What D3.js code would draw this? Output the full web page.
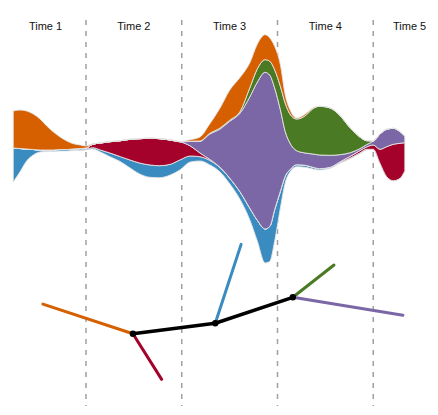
<!DOCTYPE html>
<html>
<head>
<meta charset="utf-8">
<script src="https://cdn.jsdelivr.net/npm/d3@7"></script>
<style>
  html, body { margin: 0; padding: 0; background: #fff; }
  svg { display: block; }
</style>
</head>
<body>
<svg id="chart" width="438" height="415"></svg>
<script>
// ---------------- DATA ----------------
const timeLabels = ["Time 1", "Time 2", "Time 3", "Time 4", "Time 5"];
const cloneKeys = ["blue", "red", "purple", "green", "orange"]; // bottom -> top
const cloneColors = {
  orange: "#d65f00",
  green: "#4a7a23",
  purple: "#7b67a6",
  red: "#a5022b",
  blue: "#3a8bc0"
};

// sample positions along the time axis (1 unit = one time column)
const sampleT = [0.24,0.31,0.38,0.45,0.52,0.59,0.66,0.73,0.80,0.86,0.94,1.00,1.07,1.15,1.25,1.36,1.46,1.56,1.67,1.77,1.88,1.98,2.09,2.19,2.29,2.40,2.50,2.61,2.71,2.79,2.87,2.92,2.97,3.03,3.08,3.13,3.20,3.29,3.37,3.44,3.55,3.65,3.76,3.86,3.93,4.00,4.07,4.14,4.21,4.28,4.33];
// lower edge of the stream at each sample
const baseline = [-34,-24,-13,-7,-4,-3.5,-3.5,-3,-3,-2.5,-2.5,-2,-1,-4,-8.7,-13.7,-20,-26,-29.3,-29.7,-27,-22,-14,-13,-16.7,-24,-35.7,-51.7,-71.7,-93.3,-115,-113.3,-93.3,-60,-35,-24,-18.7,-19.3,-21,-22,-20.3,-15.3,-10.7,-5.7,-2,-1.3,-15.3,-28.7,-32.7,-30.3,-22.7];
// clone thickness at each sample
const blueVals   = [34,23.5,12,5.5,2,1.5,1.5,1.5,1.5,1.5,1.5,1,1.3,2,3.7,5,8,11,12.3,12,10.7,10,6,4.3,4.5,4.4,5.7,7.7,11.7,21,34,35,31.6,16.7,6.7,2.3,2,2,1.7,1.3,1,0.6,0.7,0.7,0.7,0,0,0,0,0,0];
const redVals    = [0,0,0,0,0,0,0,0,0,0,0.5,1,3.4,7,11.3,16,20.7,24.3,26.7,27,24.3,18.3,10,3.7,1,0.3,0,0,0,0,0,0,0,0,0,0,0,0,0,0,0,0.7,1.7,2.3,2.3,4.3,14,30,36.4,35,28];
const purpleVals = [0,0,0,0,0,0,0,0,0,0,0,0,0,0,0,0,0,0,0,0,0,0,4.5,11.7,25,38.3,56.7,79,111,138.3,156.7,151,121.7,81.6,45,26.7,14,12.3,13.3,13.7,12,7.3,3.6,2,2.3,4,15.3,17.4,16,11.6,6.7];
const greenVals  = [0,0,0,0,0,0,0,0,0,0,0,0,0,0,0,0,0,0,0,0,0,0,0.3,0.3,0.7,1,1,1.7,9,13.3,12.6,14,18.3,23.4,28.3,29,31.7,37.3,45.3,48.7,47.3,39.4,24.7,11.7,4,0,0,0,0,0,0];
const orangeVals = [37,38.5,38,35.5,31,24,18,12.5,8.5,5.5,3.5,2,0.5,0,0,0,0,0,0,0,0,0.3,1.5,4,9.3,20,30,34,25,24.7,25,23.3,23.4,21.6,8.3,4.3,1,1.7,0.7,0,0,0,0,0,0,0,0,0,0,0,0];

// phylogeny
const nodeNames  = ["A", "B", "C", "orange", "red", "blue", "green", "purple"];
const nodeTime   = [1.49, 2.35, 3.16, 0.55, 1.79, 2.62, 3.59, 4.31];
const nodeLevel  = [37.5, 44.5, 61.8, 57.3, 7.1, 97.1, 83.3, 49.8];
const nodeParent = [null, "A", "B", "A", "A", "B", "C", "C"];

// ---------------- CHART ----------------
const svg = d3.select("#chart");
const x = d3.scaleLinear().domain([0, 5]).range([-9.75, 469]);
const y = d3.scaleLinear().domain([-120, 120]).range([268, 28]);
const yTree = d3.scaleLinear().domain([0, 100]).range([390, 240]);

// dashed separators
svg.append("g").selectAll("line")
  .data(d3.range(1, timeLabels.length))
  .join("line")
  .attr("x1", d => x(d)).attr("x2", d => x(d))
  .attr("y1", 20).attr("y2", 406)
  .attr("stroke", "#a0a0a0")
  .attr("stroke-width", 1.5)
  .attr("stroke-dasharray", "5,6");

// time labels (centred in visible part of each column)
svg.append("g").selectAll("text")
  .data(timeLabels)
  .join("text")
  .attr("x", (d, i) => (Math.max(x(i), 5) + Math.min(x(i + 1), 446)) / 2)
  .attr("y", 30)
  .attr("text-anchor", "middle")
  .attr("font-family", "Liberation Sans, Arial, sans-serif")
  .attr("font-size", 11)
  .attr("fill", "#111")
  .text(d => d);

// streams
const table = sampleT.map((t, i) => ({
  t,
  blue: blueVals[i], red: redVals[i], purple: purpleVals[i],
  green: greenVals[i], orange: orangeVals[i]
}));
const stack = d3.stack()
  .keys(cloneKeys)
  .offset((series, order) => {
    d3.stackOffsetNone(series, order);
    for (const s of series) s.forEach((p, j) => { p[0] += baseline[j]; p[1] += baseline[j]; });
  });
const layers = stack(table);
const area = d3.area()
  .x(d => x(d.data.t))
  .y0(d => y(d[0]))
  .y1(d => y(d[1]))
  .curve(d3.curveMonotoneX);

svg.append("g").selectAll("path")
  .data(layers)
  .join("path")
  .attr("d", area)
  .attr("fill", d => cloneColors[d.key])
  .attr("stroke", "#e4e4e4")
  .attr("stroke-width", 0.9)
  .attr("stroke-linejoin", "round");

// phylogeny
const nodes = nodeNames.map((n, i) => ({ name: n, t: nodeTime[i], v: nodeLevel[i], parent: nodeParent[i] }));
const byName = new Map(nodes.map(n => [n.name, n]));
const edges = nodes.filter(n => n.parent).map(n => ({ source: byName.get(n.parent), target: n }));
const treeG = svg.append("g");
const leafEdges = edges.filter(e => cloneColors[e.target.name]);
const innerEdges = edges.filter(e => !cloneColors[e.target.name]);

treeG.selectAll("line.leaf")
  .data(leafEdges)
  .join("line")
  .attr("class", "leaf")
  .attr("x1", e => x(e.source.t)).attr("y1", e => yTree(e.source.v))
  .attr("x2", e => x(e.target.t)).attr("y2", e => yTree(e.target.v))
  .attr("stroke", e => cloneColors[e.target.name])
  .attr("stroke-width", 3)
  .attr("stroke-linecap", "round");

treeG.selectAll("line.inner")
  .data(innerEdges)
  .join("line")
  .attr("class", "inner")
  .attr("x1", e => x(e.source.t)).attr("y1", e => yTree(e.source.v))
  .attr("x2", e => x(e.target.t)).attr("y2", e => yTree(e.target.v))
  .attr("stroke", "#000")
  .attr("stroke-width", 3.5)
  .attr("stroke-linecap", "round");

treeG.selectAll("circle")
  .data(nodes.filter(n => !cloneColors[n.name]))
  .join("circle")
  .attr("cx", n => x(n.t)).attr("cy", n => yTree(n.v))
  .attr("r", 3.2)
  .attr("fill", "#000");
</script>
</body>
</html>
